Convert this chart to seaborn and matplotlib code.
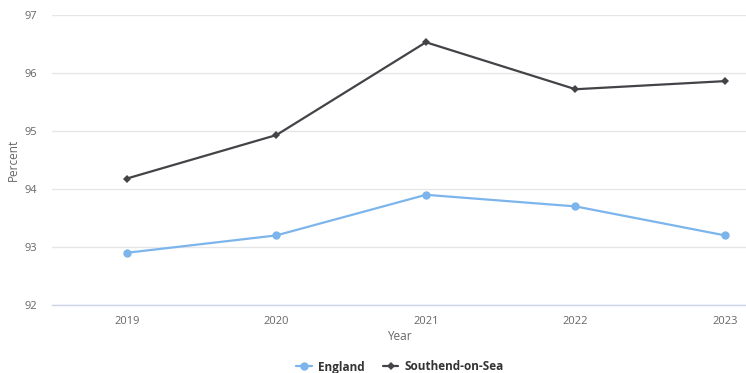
import matplotlib
matplotlib.use("Agg")
import matplotlib.pyplot as plt
import seaborn as sns
import pandas as pd
from matplotlib.lines import Line2D

years = ["2019", "2020", "2021", "2022", "2023"]
england = [92.9, 93.2, 93.9, 93.7, 93.2]
southend = [94.18, 94.93, 96.53, 95.72, 95.86]
series_names = ["England", "Southend-on-Sea"]
colors = {"England": "#7cb5ec", "Southend-on-Sea": "#434348"}
markers = {"England": "o", "Southend-on-Sea": "D"}
marker_sizes = {"England": 6, "Southend-on-Sea": 4.5}

df = pd.DataFrame({
    "Year": years * 2,
    "Percent": england + southend,
    "Series": ["England"] * len(years) + ["Southend-on-Sea"] * len(years),
})
df["pos"] = df["Year"].map({y: i for i, y in enumerate(years)})

sns.set_theme(style="white")
plt.rcParams["font.family"] = ["Open Sans", "DejaVu Sans"]

fig = plt.figure(figsize=(7.46, 3.73), dpi=100)
ax = fig.add_axes([52 / 746, 68 / 373, (746 - 52) / 746, (305 - 15) / 373])

for name in series_names:
    sub = df[df["Series"] == name]
    sns.lineplot(data=sub, x="pos", y="Percent", ax=ax, color=colors[name],
                 marker=markers[name], markersize=marker_sizes[name],
                 markeredgewidth=0, linewidth=1.6, legend=False, zorder=3)

ax.set_ylim(92, 97)
ax.set_yticks(range(92, 98))
ax.set_xlim(-0.5, 4.14)
ax.set_xticks(range(len(years)))
ax.set_xticklabels(years)
ax.grid(axis="y", color="#e6e6e6", linewidth=1)
ax.set_axisbelow(True)
for side in ["top", "right", "left"]:
    ax.spines[side].set_visible(False)
ax.spines["bottom"].set_color("#ccd6eb")
ax.spines["bottom"].set_linewidth(1)
ax.tick_params(axis="both", length=0, labelsize=8, colors="#666666")
ax.tick_params(axis="x", pad=8)
ax.tick_params(axis="y", pad=11)
ax.set_xlabel("Year", fontsize=8.5, color="#666666", labelpad=2)
ax.yaxis.set_label_coords(-(52 - 13) / 694, 0.5)
ax.set_ylabel("Percent", fontsize=8.5, color="#666666", va="center")

handles = [Line2D([0], [0], color=colors[n], marker=markers[n],
                  markersize=marker_sizes[n], markeredgewidth=0, linewidth=1.6)
           for n in series_names]
leg = fig.legend(handles, series_names, loc="center", bbox_to_anchor=(400 / 746, 1 - 367 / 373),
                 ncol=2, frameon=False, handlelength=1.3, columnspacing=1.6,
                 handletextpad=0.5, prop={"weight": "bold", "size": 8.5})
for t in leg.get_texts():
    t.set_color("#333333")

fig.savefig("out.png", dpi=100)
